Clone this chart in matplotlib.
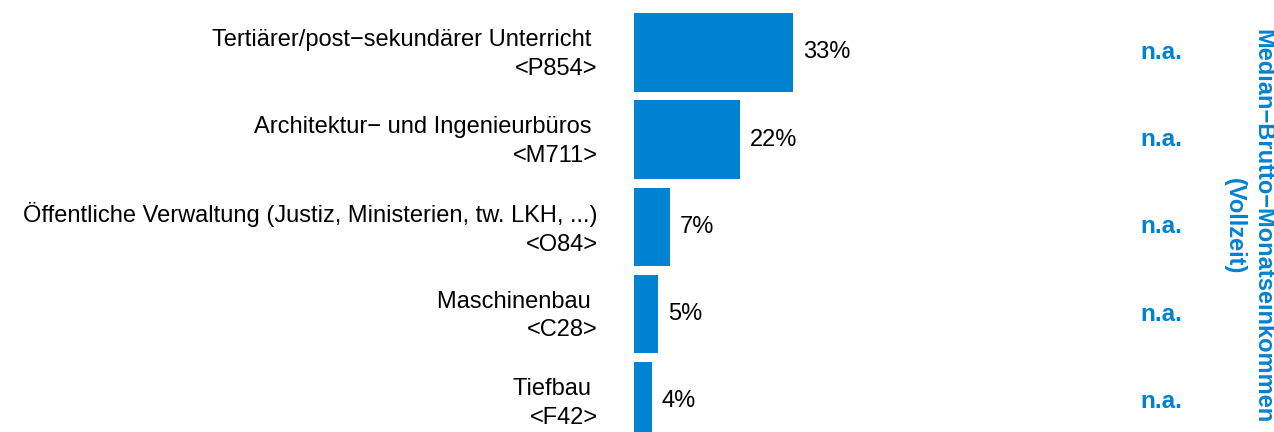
import numpy as np
import matplotlib.pyplot as plt
import matplotlib.transforms as mtransforms

plt.rcParams['font.family'] = ['Liberation Sans', 'DejaVu Sans']

branchen = ["Tertiärer/post−sekundärer Unterricht ",
            "Architektur− und Ingenieurbüros ",
            "Öffentliche Verwaltung (Justiz, Ministerien, tw. LKH, ...)",
            "Maschinenbau ",
            "Tiefbau "]
codes = ["<P854>", "<M711>", "<O84>", "<C28>", "<F42>"]
anteile = [33.0, 22.0, 7.4, 5.0, 3.7]
einkommen = ["n.a.", "n.a.", "n.a.", "n.a.", "n.a."]

blau = "#0082D2"

fig = plt.figure(figsize=(12.74, 4.32), dpi=100)
ax = fig.add_axes([0.4976, -0.030, 0.378, 1.0095])

y = np.arange(len(branchen))
ax.barh(y, anteile, height=0.9, color=blau)
ax.set_ylim(len(branchen) - 0.5, -0.5)
ax.set_xlim(0, 100)

labels = [b + "\n" + c for b, c in zip(branchen, codes)]
ax.set_yticks(y)
ax.set_yticklabels(labels, fontsize=17, linespacing=1.4, ha='right', multialignment='right')
ax.tick_params(axis='y', length=0, pad=26)
# Beschriftung etwas nach oben schieben
shift = mtransforms.ScaledTranslation(0, 4 / 100, fig.dpi_scale_trans)
for lab in ax.get_yticklabels():
    lab.set_transform(lab.get_transform() + shift)
ax.set_xticks([])
for s in ax.spines.values():
    s.set_visible(False)

for i, v in enumerate(anteile):
    ax.annotate(f"{v:.0f}%", (v, i), xytext=(7, 0), textcoords='offset points',
                va='center', ha='left', fontsize=17)

# rechte Spalte
for i, t in enumerate(einkommen):
    ax.annotate(t, (0, i), xycoords=('figure fraction', 'data'), xytext=(1161 / 1274, 0),
                textcoords=('figure fraction', 'offset points'),
                ha='center', va='center', fontsize=17.5, fontweight='bold', color=blau)

fig.text(1249 / 1274, 1 - 226 / 432, "Median−Brutto−Monatseinkommen\n(Vollzeit)",
         rotation=-90, ha='center', va='center', multialignment='center',
         fontsize=17, fontweight='bold', color=blau, linespacing=1.3)

fig.savefig("out.png", dpi=100)
